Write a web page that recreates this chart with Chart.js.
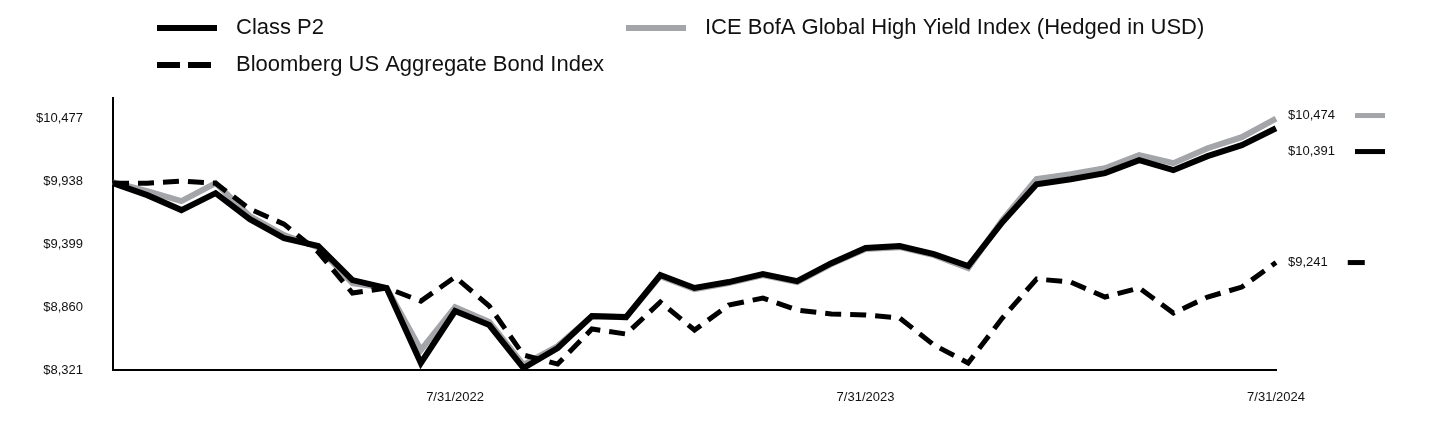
<!DOCTYPE html>
<html>
<head>
<meta charset="utf-8">
<script src="https://cdn.jsdelivr.net/npm/chart.js@4.4.1/dist/chart.umd.min.js"></script>
<style>
  html, body { margin: 0; padding: 0; background: #fff; }
  #wrap { width: 1440px; height: 432px; position: relative; }
</style>
</head>
<body>
<div id="wrap"><canvas id="growthChart"></canvas></div>
<script>
// Month-end dates, 9/30/2021 .. 7/31/2024
const months = [
    '9/30/2021', '10/31/2021', '11/30/2021', '12/31/2021', '1/31/2022', '2/28/2022',
    '3/31/2022', '4/30/2022', '5/31/2022', '6/30/2022', '7/31/2022', '8/31/2022',
    '9/30/2022', '10/31/2022', '11/30/2022', '12/31/2022', '1/31/2023', '2/28/2023',
    '3/31/2023', '4/30/2023', '5/31/2023', '6/30/2023', '7/31/2023', '8/31/2023',
    '9/30/2023', '10/31/2023', '11/30/2023', '12/31/2023', '1/31/2024', '2/29/2024',
    '3/31/2024', '4/30/2024', '5/31/2024', '6/30/2024', '7/31/2024'
];
const shownDates = ['7/31/2022', '7/31/2023', '7/31/2024'];
const yTicks = [8321, 8860, 9399, 9938, 10477];

const classP2 = [
    9921, 9818, 9690, 9835, 9613, 9450, 9382, 9091, 9023, 8381, 8826, 8706,
    8338, 8509, 8783, 8774, 9134, 9023, 9074, 9142, 9082, 9236, 9365, 9382,
    9313, 9211, 9587, 9912, 9955, 10007, 10118, 10032, 10152, 10246, 10391
];
const iceBofa = [
    9930, 9853, 9767, 9921, 9639, 9476, 9370, 9065, 9023, 8492, 8860, 8732,
    8364, 8526, 8780, 8772, 9125, 9014, 9065, 9134, 9074, 9228, 9356, 9373,
    9305, 9194, 9604, 9955, 9998, 10049, 10161, 10092, 10220, 10315, 10474
];
const bloomberg = [
    9921, 9921, 9938, 9921, 9699, 9570, 9331, 8980, 9023, 8911, 9117, 8869,
    8449, 8372, 8672, 8629, 8903, 8663, 8877, 8937, 8834, 8800, 8792, 8766,
    8535, 8381, 8766, 9100, 9074, 8946, 9023, 8809, 8946, 9031, 9241
];

const GRAY = '#a3a5a8';
const FONT = 'Arial, "Liberation Sans", sans-serif';

function money(v) {
    return '$' + Math.round(v).toLocaleString('en-US');
}

// Two-column legend across the top
const topLegend = {
    id: 'topLegend',
    afterDraw(chart) {
        const ctx = chart.ctx;
        const ds = chart.data.datasets;
        const spots = [
            { i: 0, x: 157, y: 28 },
            { i: 1, x: 626, y: 28 },
            { i: 2, x: 157, y: 65 }
        ];
        ctx.save();
        ctx.font = '22px ' + FONT;
        ctx.textBaseline = 'middle';
        spots.forEach(s => {
            const d = ds[s.i];
            ctx.strokeStyle = d.borderColor;
            ctx.lineWidth = 6;
            ctx.setLineDash(d.borderDash && d.borderDash.length ? [23, 8] : []);
            ctx.beginPath();
            ctx.moveTo(s.x, s.y);
            ctx.lineTo(s.x + 60, s.y);
            ctx.stroke();
            ctx.setLineDash([]);
            ctx.fillStyle = '#111';
            ctx.fillText(d.label, s.x + 79, s.y);
        });
        ctx.restore();
    }
};

// Ending value labels at the right of the plot
const endLabels = {
    id: 'endLabels',
    afterDraw(chart) {
        const ctx = chart.ctx;
        const yScale = chart.scales.y;
        const items = chart.data.datasets.map(d => {
            const last = d.data[d.data.length - 1];
            return { d: d, v: last, y: yScale.getPixelForValue(last) };
        }).sort((a, b) => a.y - b.y);
        let prev = null;
        items.forEach((it, k) => {
            it.ly = k === 0 ? it.y - 3 : Math.max(it.y, prev + 36);
            prev = it.ly;
        });
        ctx.save();
        ctx.font = '13px ' + FONT;
        ctx.textBaseline = 'middle';
        items.forEach(it => {
            const txt = money(it.v);
            const x0 = chart.chartArea.right + 12;
            ctx.fillStyle = '#111';
            ctx.fillText(txt, x0, it.ly);
            const mx = x0 + ctx.measureText(txt).width + 20;
            ctx.strokeStyle = it.d.borderColor;
            ctx.lineWidth = 5;
            const dashed = it.d.borderDash && it.d.borderDash.length;
            ctx.beginPath();
            ctx.moveTo(mx, it.ly);
            ctx.lineTo(mx + (dashed ? 17 : 30), it.ly);
            ctx.stroke();
        });
        ctx.restore();
    }
};

const ctx = document.getElementById('growthChart').getContext('2d');
new Chart(ctx, {
    type: 'line',
    data: {
        labels: months,
        datasets: [
            {
                label: 'Class P2',
                data: classP2,
                borderColor: '#000',
                borderWidth: 6,
                order: 1
            },
            {
                label: 'ICE BofA Global High Yield Index (Hedged in USD)',
                data: iceBofa,
                borderColor: GRAY,
                borderWidth: 6,
                order: 2
            },
            {
                label: 'Bloomberg US Aggregate Bond Index',
                data: bloomberg,
                borderColor: '#000',
                borderWidth: 5,
                borderDash: [16, 9],
                order: 0
            }
        ]
    },
    options: {
        responsive: true,
        maintainAspectRatio: false,
        animation: false,
        layout: { padding: { top: 98, right: 164, left: 0, bottom: 0 } },
        elements: {
            point: { radius: 0, hoverRadius: 0 },
            line: { tension: 0, borderJoinStyle: 'miter', borderCapStyle: 'butt', fill: false }
        },
        plugins: {
            legend: { display: false },
            tooltip: { enabled: false }
        },
        scales: {
            x: {
                offset: false,
                grid: { display: false, drawTicks: false },
                border: { display: true, color: '#000', width: 2 },
                ticks: {
                    autoSkip: false,
                    maxRotation: 0,
                    padding: 20,
                    color: '#111',
                    font: { family: FONT, size: 13 },
                    callback: function(value) {
                        const lab = this.getLabelForValue(value);
                        return shownDates.includes(lab) ? lab : '';
                    }
                },
                afterFit: scale => { scale.height = 62; }
            },
            y: {
                min: 8321,
                max: 10650,
                grid: { display: false, drawTicks: false },
                border: { display: true, color: '#000', width: 2 },
                ticks: {
                    padding: 30,
                    color: '#111',
                    font: { family: FONT, size: 13 },
                    callback: v => money(v)
                },
                afterBuildTicks: scale => {
                    scale.ticks = yTicks.map(v => ({ value: v }));
                },
                afterFit: scale => { scale.width = 113; }
            }
        }
    },
    plugins: [topLegend, endLabels]
});
</script>
</body>
</html>
